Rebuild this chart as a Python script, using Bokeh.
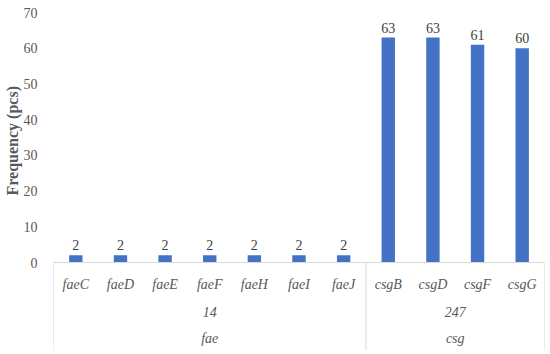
from bokeh.plotting import figure
from bokeh.models import FactorRange, Range1d, FixedTicker, ColumnDataSource, Title
from bokeh.core.properties import value
from bokeh.embed import file_html
from bokeh.resources import INLINE

genes = ["faeC", "faeD", "faeE", "faeF", "faeH", "faeI", "faeJ", "csgB", "csgD", "csgF", "csgG"]
counts = ["14"] * 7 + ["247"] * 4
operons = ["fae"] * 7 + ["csg"] * 4
freq = [2, 2, 2, 2, 2, 2, 2, 63, 63, 61, 60]
y_ticks = [0, 10, 20, 30, 40, 50, 60, 70]

SERIF = "Liberation Serif"
factors = list(zip(operons, counts, genes))

PX_PER_UNIT = 250 / 70.0
y_bottom = -(88 / PX_PER_UNIT)

x_range = FactorRange(*factors, range_padding=0, factor_padding=0,
                      subgroup_padding=0, group_padding=0)

p = figure(width=550, height=354, x_range=x_range, y_range=Range1d(y_bottom, 70),
           output_backend="svg", toolbar_location=None, x_axis_location=None,
           min_border_left=53, min_border_right=6, min_border_top=12, min_border_bottom=4)

p.outline_line_color = None
p.xgrid.visible = False
p.ygrid.visible = False
p.background_fill_color = "white"
p.border_fill_color = "white"

src = ColumnDataSource(dict(x=factors, top=freq, label=[str(v) for v in freq], gene=genes))
p.vbar(x="x", top="top", bottom=0, width=0.3, source=src,
       fill_color="#4472C4", line_color=None)

# value labels
p.text(x="x", y="top", text="label", source=src, text_align="center",
       text_baseline="bottom", y_offset=-5, text_font=value(SERIF),
       text_font_size="14px", text_color="#404040")

# baseline
p.segment(x0=[(factors[0] + (-0.5,))], y0=[0], x1=[(factors[-1] + (0.5,))], y1=[0],
          line_color="#D9D9D9", line_width=1)

# group separators
bounds = []
for i, f in enumerate(factors):
    if i == 0 or operons[i] != operons[i - 1]:
        bounds.append(f + (-0.5,))
bounds.append(factors[-1] + (0.5,))
p.segment(x0=bounds, y0=[0] * len(bounds), x1=bounds, y1=[y_bottom] * len(bounds),
          line_color="#D9D9D9", line_width=1)

# level 1: gene names
p.text(x="x", y=0, text="gene", source=src, text_align="center", text_baseline="middle",
       y_offset=22, text_font=value(SERIF), text_font_style="italic",
       text_font_size="14px", text_color="#595959")

# level 2: counts
sub = []
for o, c in zip(operons, counts):
    if (o, c) not in sub:
        sub.append((o, c))
p.text(x=sub, y=[0] * len(sub), text=[c for _, c in sub], text_align="center",
       text_baseline="middle", y_offset=49, text_font=value(SERIF),
       text_font_style="italic", text_font_size="14px", text_color="#595959")

# level 3: operons
tops = []
for o in operons:
    if o not in tops:
        tops.append(o)
p.text(x=tops, y=[0] * len(tops), text=tops, text_align="center",
       text_baseline="middle", y_offset=76, text_font=value(SERIF),
       text_font_style="italic", text_font_size="14px", text_color="#595959")

ax = p.yaxis[0]
ax.ticker = FixedTicker(ticks=y_ticks)
ax.axis_line_color = None
ax.major_tick_line_color = None
ax.minor_tick_line_color = None
ax.major_label_text_font = SERIF
ax.major_label_text_font_size = "14px"
ax.major_label_text_color = "#595959"
ax.major_label_standoff = 10

ytitle = Title(text="Frequency (pcs)", align="left", offset=155, standoff=0,
               text_font=SERIF, text_font_style="bold", text_font_size="16px",
               text_color="#595959")
p.add_layout(ytitle, "left")

open("out.html", "w").write(file_html(p, INLINE))
